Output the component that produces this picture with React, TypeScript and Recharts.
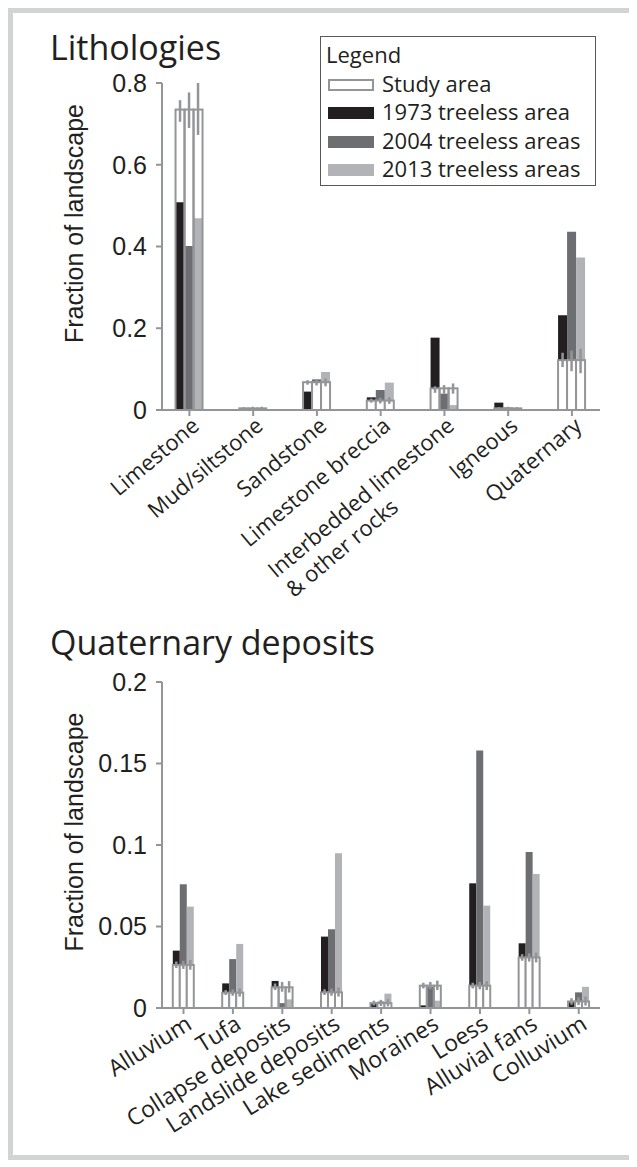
import React from "react";
import { Bar, BarChart, ErrorBar, Legend, XAxis, YAxis } from "recharts";

// ---- Lithologies ----
const lithCategories = [
  "Limestone",
  "Mud/siltstone",
  "Sandstone",
  "Limestone breccia",
  "Interbedded limestone|& other rocks",
  "Igneous",
  "Quaternary"
];
const lith1973 = [0.508, 0.005, 0.045, 0.031, 0.177, 0.018, 0.232];
const lith2004 = [0.401, 0.004, 0.075, 0.049, 0.04, 0.006, 0.436];
const lith2013 = [0.469, 0.004, 0.093, 0.067, 0.012, 0.004, 0.373];
const lithStudy = [0.735, 0.004, 0.068, 0.023, 0.053, 0.004, 0.122];
const lithLow1973 = [0.705, 0.002, 0.062, 0.018, 0.042, 0.002, 0.105];
const lithHigh1973 = [0.758, 0.007, 0.073, 0.028, 0.058, 0.007, 0.14];
const lithLow2004 = [0.69, 0.002, 0.06, 0.016, 0.04, 0.002, 0.095];
const lithHigh2004 = [0.777, 0.008, 0.075, 0.03, 0.061, 0.008, 0.145];
const lithLow2013 = [0.673, 0.002, 0.058, 0.015, 0.04, 0.002, 0.09];
const lithHigh2013 = [0.8, 0.008, 0.077, 0.031, 0.065, 0.007, 0.15];
const lithTicks = [0, 0.2, 0.4, 0.6, 0.8];

// ---- Quaternary deposits ----
const quatCategories = [
  "Alluvium",
  "Tufa",
  "Collapse deposits",
  "Landslide deposits",
  "Lake sediments",
  "Moraines",
  "Loess",
  "Alluvial fans",
  "Colluvium"
];
const quat1973 = [0.0352, 0.0151, 0.0166, 0.0438, 0.0025, 0.0016, 0.0765, 0.0397, 0.0035];
const quat2004 = [0.0759, 0.03, 0.003, 0.0483, 0.004, 0.013, 0.158, 0.0957, 0.0096];
const quat2013 = [0.0622, 0.0393, 0.0053, 0.0949, 0.0088, 0.0045, 0.0628, 0.0822, 0.013];
const quatStudy = [0.0264, 0.0094, 0.0127, 0.0096, 0.003, 0.0137, 0.0137, 0.031, 0.004];
const quatLow1973 = [0.0245, 0.008, 0.011, 0.008, 0.0015, 0.012, 0.012, 0.029, 0.002];
const quatHigh1973 = [0.0285, 0.011, 0.015, 0.0115, 0.0045, 0.0155, 0.0155, 0.033, 0.006];
const quatLow2004 = [0.024, 0.0075, 0.01, 0.0075, 0.0012, 0.0115, 0.0115, 0.0285, 0.0018];
const quatHigh2004 = [0.029, 0.0115, 0.016, 0.012, 0.005, 0.016, 0.016, 0.0335, 0.0065];
const quatLow2013 = [0.0235, 0.007, 0.0095, 0.007, 0.001, 0.011, 0.011, 0.028, 0.0015];
const quatHigh2013 = [0.0295, 0.012, 0.0165, 0.0125, 0.0055, 0.0168, 0.0165, 0.034, 0.007];
const quatTicks = [0, 0.05, 0.1, 0.15, 0.2];

const seriesNames = ["1973 treeless area", "2004 treeless areas", "2013 treeless areas"];
const studyName = "Study area";

const C1973 = "#231f20";
const C2004 = "#6d6e71";
const C2013 = "#b1b3b6";
const GREY = "#939598";
const TEXT = "#231f20";
const SANS = "'Open Sans', 'Noto Sans', sans-serif";
const ARIAL = "'Liberation Sans', Arial, sans-serif";

function buildRows(
  cats: string[],
  a: number[],
  b: number[],
  c: number[],
  study: number[],
  lo: number[][],
  hi: number[][]
) {
  return cats.map((name, i) => ({
    pos: i + 1,
    name,
    t1973: a[i],
    t2004: b[i],
    t2013: c[i],
    study: study[i],
    // one study-area outline per slot, so each needs its own key
    s1973: study[i],
    s2004: study[i],
    s2013: study[i],
    e1973: [study[i] - lo[0][i], hi[0][i] - study[i]],
    e2004: [study[i] - lo[1][i], hi[1][i] - study[i]],
    e2013: [study[i] - lo[2][i], hi[2][i] - study[i]]
  }));
}

const lithRows = buildRows(
  lithCategories,
  lith1973,
  lith2004,
  lith2013,
  lithStudy,
  [lithLow1973, lithLow2004, lithLow2013],
  [lithHigh1973, lithHigh2004, lithHigh2013]
);
const quatRows = buildRows(
  quatCategories,
  quat1973,
  quat2004,
  quat2013,
  quatStudy,
  [quatLow1973, quatLow2004, quatLow2013],
  [quatHigh1973, quatHigh2004, quatHigh2013]
);

// the study-area outline hides the treeless bar below it only when that bar is taller
const studyShape = (key: string) => (props: any) => {
  const { x, y, width, height, payload } = props;
  const covers = payload[key] > payload.study;
  return (
    <rect
      x={x}
      y={y}
      width={width}
      height={Math.max(height, 0)}
      fill={covers ? "#ffffff" : "none"}
      stroke={GREY}
      strokeWidth={2}
    />
  );
};

function CategoryTick(props: any) {
  const { x, y, payload, names, lineShift, angle, size } = props;
  const label: string = names[Math.round(payload.value) - 1] ?? "";
  const lines = label.split("|");
  return (
    <g transform={`translate(${x + 1},${y - 2})`}>
      <text transform={`rotate(${angle})`} textAnchor="end" fontFamily={SANS} fontSize={size} fill={TEXT}>
        <tspan x={0} dy="0.72em">
          {lines[0]}
        </tspan>
        {lines[1] ? (
          <tspan x={-lineShift} dy="1.2em">
            {lines[1]}
          </tspan>
        ) : null}
      </text>
    </g>
  );
}

function AxisTitle(props: any) {
  const { viewBox, shift } = props;
  const cx = viewBox.x + 66;
  const cy = viewBox.y + viewBox.height / 2 + shift;
  return (
    <text
      x={cx}
      y={cy}
      transform={`rotate(-90, ${cx}, ${cy})`}
      textAnchor="middle"
      dominantBaseline="central"
      fontFamily={ARIAL}
      fontSize={25}
      fill={TEXT}
    >
      Fraction of landscape
    </text>
  );
}

function LegendBox({ payload }: any) {
  const order = [studyName, ...seriesNames];
  const items = (payload ?? [])
    .filter((p: any) => order.includes(p.value))
    .sort((p: any, q: any) => order.indexOf(p.value) - order.indexOf(q.value));
  return (
    <div
      style={{
        boxSizing: "border-box",
        width: 276,
        height: 150,
        border: "1px solid #58595b",
        background: "#fff",
        padding: "3px 0 0 5px",
        fontFamily: SANS,
        fontSize: 22,
        color: TEXT,
        lineHeight: "28.5px"
      }}
    >
      <div>Legend</div>
      {items.map((item: any) => {
        const isStudy = item.value === studyName;
        return (
          <div key={item.value} style={{ display: "flex", alignItems: "center", height: 28.5 }}>
            <span
              style={{
                boxSizing: "border-box",
                display: "inline-block",
                width: 46,
                height: 12,
                marginLeft: 2,
                marginRight: 8,
                marginTop: 4,
                background: isStudy ? "#fff" : item.color,
                border: isStudy ? `2px solid ${GREY}` : "none"
              }}
            />
            <span>{item.value}</span>
          </div>
        );
      })}
    </div>
  );
}

function Panel({
  rows,
  names,
  yMax,
  yTicks,
  xDomain,
  barSize,
  height,
  marginTop,
  axisHeight,
  labelShift,
  lineShift,
  angle,
  size,
  legend
}: {
  rows: any[];
  names: string[];
  yMax: number;
  yTicks: number[];
  xDomain: [number, number];
  barSize: number;
  height: number;
  marginTop: number;
  axisHeight: number;
  labelShift: number;
  lineShift: number;
  angle: number;
  size: number;
  legend?: boolean;
}) {
  const positions = names.map((_n, i) => i + 1);
  const axisStyle = { stroke: GREY, strokeWidth: 2 };
  const fills = [C1973, C2004, C2013];
  const keys = ["1973", "2004", "2013"];
  return (
    <BarChart
      width={604}
      height={height}
      data={rows}
      margin={{ top: marginTop, right: 12, bottom: 0, left: 0 }}
      barGap={0}
      barSize={barSize}
    >
      <XAxis
        xAxisId="fill"
        dataKey="pos"
        type="number"
        domain={xDomain}
        ticks={positions}
        interval={0}
        height={axisHeight}
        axisLine={axisStyle}
        tickLine={axisStyle}
        tickSize={6}
        tick={<CategoryTick names={names} lineShift={lineShift} angle={angle} size={size} />}
      />
      <XAxis xAxisId="study" dataKey="pos" type="number" domain={xDomain} ticks={positions} height={axisHeight} hide />
      <YAxis
        type="number"
        domain={[0, yMax]}
        ticks={yTicks}
        interval={0}
        width={154}
        axisLine={axisStyle}
        tickLine={axisStyle}
        tickSize={6}
        tickMargin={9}
        tick={{ fill: TEXT, fontSize: 25, fontFamily: ARIAL }}
        tickFormatter={(v: number) => (v === 0 ? "0" : String(v))}
        label={<AxisTitle shift={labelShift} />}
      />
      {keys.map((k, i) => (
        <Bar
          key={"t" + k}
          xAxisId="fill"
          dataKey={"t" + k}
          name={seriesNames[i]}
          fill={fills[i]}
          isAnimationActive={false}
        />
      ))}
      {keys.map((k, i) => (
        <Bar
          key={"s" + k}
          xAxisId="study"
          dataKey={"s" + k}
          name={i === 0 ? studyName : "study " + k}
          legendType={i === 0 ? "rect" : "none"}
          fill="#ffffff"
          shape={studyShape("t" + k)}
          isAnimationActive={false}
        >
          <ErrorBar dataKey={"e" + k} width={0} stroke={GREY} strokeWidth={2.5} isAnimationActive={false} />
        </Bar>
      ))}
      {legend ? (
        <Legend
          layout="vertical"
          align="center"
          verticalAlign="middle"
          content={<LegendBox />}
          wrapperStyle={{ left: 312, top: 28, width: 276, height: 150 }}
        />
      ) : null}
    </BarChart>
  );
}

export default function App() {
  return (
    <div style={{ position: "relative", width: 629, height: 1152, fontFamily: SANS }}>
      <div
        style={{
          position: "absolute",
          left: 0,
          top: 0,
          width: 629,
          height: 1152,
          boxSizing: "border-box",
          border: "5px solid #d1d3d4"
        }}
      />
      <svg
        width={629}
        height={1152}
        style={{ position: "absolute", left: 0, top: 0, pointerEvents: "none" }}
      >
        <text x={42} y={52} fontFamily={SANS} fontSize={34} fill={TEXT}>
          Lithologies
        </text>
        <text x={42} y={647} fontFamily={SANS} fontSize={34} fill={TEXT}>
          Quaternary deposits
        </text>
      </svg>
      <div style={{ position: "absolute", left: 0, top: 0 }}>
        <Panel
          rows={lithRows}
          names={lithCategories}
          yMax={0.8}
          yTicks={lithTicks}
          xDomain={[0.57, 7.44]}
          barSize={9}
          height={600}
          marginTop={75}
          axisHeight={198}
          labelShift={-23}
          lineShift={95}
          angle={-40}
          size={22}
          legend
        />
      </div>
      <div style={{ position: "absolute", left: 0, top: 592 }}>
        <Panel
          rows={quatRows}
          names={quatCategories}
          yMax={0.2}
          yTicks={quatTicks}
          xDomain={[0.565, 9.43]}
          barSize={7}
          height={555}
          marginTop={82}
          axisHeight={147}
          labelShift={-13}
          lineShift={0}
          angle={-32}
          size={23}
        />
      </div>
    </div>
  );
}
